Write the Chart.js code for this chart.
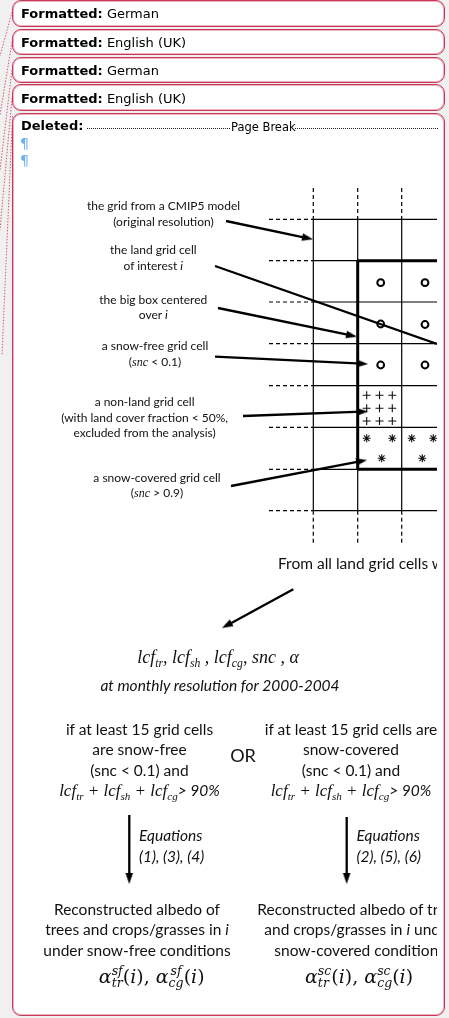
<!DOCTYPE html>
<html>
<head>
<meta charset="utf-8">
<script src="https://cdn.jsdelivr.net/npm/chart.js"></script>
<style>
html, body { margin:0; padding:0; width:449px; height:1018px; background:#f0f0f0; overflow:hidden; }
body { font-family: Lato, "Open Sans", sans-serif; color:#111; position:relative; }
.bal { position:absolute; left:12px; width:433px; background:#fff; border:1.5px solid #c8365a; border-radius:9px; box-sizing:border-box; box-shadow: inset 0 0 0 1px #eeb3c1; z-index:1; }
.bt { position:absolute; left:21px; font-family:"DejaVu Sans", sans-serif; font-size:13px; white-space:nowrap; line-height:16px; z-index:3; color:#000; }
.pil { position:absolute; left:20px; font:14px "DejaVu Sans", sans-serif; color:#6ab0f2; z-index:3; line-height:16px; }
.dots { position:absolute; height:0; border-bottom:1px dotted #222; z-index:3; }
#diagram { position:absolute; left:0; top:0; z-index:2; }
#txt { position:absolute; left:0; top:0; width:437px; height:1018px; overflow:hidden; z-index:3; }
.c { position:absolute; white-space:nowrap; text-align:center; transform:translateX(-50%); }
.l { position:absolute; white-space:nowrap; }
.sm { font-size:12px; line-height:15.7px; }
.md { font-size:15.5px; line-height:20.3px; }
.tm { font-family:"Liberation Serif", "Times New Roman", serif; font-style:italic; }
.md .tm { font-size:17px; }
.tm sub { font-size:0.65em; vertical-align:-0.35em; line-height:0; }
.eq { font-style:italic; font-size:15.5px; line-height:21px; }
.alpha { font-family:"DejaVu Serif", "Liberation Serif", serif; font-size:19px; line-height:24px; }
.ss { display:inline-flex; flex-direction:column; vertical-align:0.6em; font-size:0.66em; line-height:0.95em; font-style:italic; }
</style>
</head>
<body>

<div class="bal" style="top:0px;height:27px"></div>
<div class="bal" style="top:28.5px;height:26.5px"></div>
<div class="bal" style="top:56.5px;height:26.5px"></div>
<div class="bal" style="top:84px;height:27px"></div>
<div class="bal" style="top:113px;height:903px"></div>

<div class="bt" style="top:6px"><b>Formatted:</b> German</div>
<div class="bt" style="top:35px"><b>Formatted:</b> English (UK)</div>
<div class="bt" style="top:63px"><b>Formatted:</b> German</div>
<div class="bt" style="top:91px"><b>Formatted:</b> English (UK)</div>
<div class="bt" style="top:118px"><b>Deleted:</b></div>
<div class="dots" style="left:87px;width:143px;top:128px"></div>
<div class="bt" style="top:119px;left:231px;font-size:11.5px">Page Break</div>
<div class="dots" style="left:295px;width:143px;top:128px"></div>
<div class="pil" style="top:135px">¶</div>
<div class="pil" style="top:152px">¶</div>

<canvas id="diagram" width="437" height="1018"></canvas>

<div id="txt">
  <div class="c sm" style="left:163.5px;top:198px">the grid from a CMIP5 model<br>(original resolution)</div>
  <div class="c sm" style="left:153.3px;top:242px">the land grid cell<br>of interest <i>i</i></div>
  <div class="c sm" style="left:153.3px;top:291.5px">the big box centered<br>over <i>i</i></div>
  <div class="c sm" style="left:155px;top:338px">a snow-free grid cell<br>(<span class="tm">snc</span> &lt; 0.1)</div>
  <div class="c sm" style="left:144.6px;top:394px">a non-land grid cell<br>(with land cover fraction &lt; 50%,<br>excluded from the analysis)</div>
  <div class="c sm" style="left:157px;top:469.5px">a snow-covered grid cell<br>(<span class="tm">snc</span> &gt; 0.9)</div>

  <div class="l md" style="left:278px;top:552.5px">From all land grid cells within the big box</div>

  <div class="c tm" style="left:218px;top:645px;font-size:18px;line-height:24px">lcf<sub>tr</sub>, lcf<sub>sh</sub> , lcf<sub>cg</sub>, snc , α</div>
  <div class="c" style="left:220px;top:675px;font-size:15.5px;font-style:italic;line-height:20px">at monthly resolution for 2000-2004</div>

  <div class="c md" style="left:139.5px;top:719px">if at least 15 grid cells<br>are snow-free<br>(snc &lt; 0.1) and<br><span class="tm">lcf<sub>tr</sub> + lcf<sub>sh</sub> + lcf<sub>cg</sub></span><i>&gt; 90%</i></div>
  <div class="c" style="left:243px;top:744px;font-size:18px;line-height:22px">OR</div>
  <div class="c md" style="left:351px;top:719px">if at least 15 grid cells are<br>snow-covered<br>(snc &lt; 0.1) and<br><span class="tm">lcf<sub>tr</sub> + lcf<sub>sh</sub> + lcf<sub>cg</sub></span><i>&gt; 90%</i></div>

  <div class="l eq" style="left:139px;top:824.5px">Equations<br>(1), (3), (4)</div>
  <div class="l eq" style="left:356.5px;top:824.5px">Equations<br>(2), (5), (6)</div>

  <div class="c md" style="left:137px;top:899px">Reconstructed albedo of<br>trees and crops/grasses in <i>i</i><br>under snow-free conditions</div>
  <div class="c alpha" style="left:151.7px;top:964px"><i>α</i><span class="ss"><span>sf</span><span>tr</span></span>(<i>i</i>), <i>α</i><span class="ss"><span>sf</span><span>cg</span></span>(<i>i</i>)</div>
  <div class="l md" style="left:257.3px;top:899px">Reconstructed albedo of trees</div>
  <div class="l md" style="left:264.3px;top:919.3px">and crops/grasses in <i>i</i> under</div>
  <div class="l md" style="left:274.3px;top:939.6px">snow-covered conditions</div>
  <div class="l alpha" style="left:305px;top:964px"><i>α</i><span class="ss"><span>sc</span><span>tr</span></span>(<i>i</i>), <i>α</i><span class="ss"><span>sc</span><span>cg</span></span>(<i>i</i>)</div>
</div>

<script>
// grid of the CMIP5 model (page pixels)
const gridCols = [313.3, 357.7, 401.7];
const gridRows = [219.3, 260.7, 302.0, 343.7, 385.7, 427.3, 469.3, 510.7];
const gridRight = 437;
const stubLeft = 269;
const stubTop = 188;
const stubBottom = 542.7;

// the big box around cell i
const boxLeft = 357.7, boxTop = 260.7, boxBottom = 469.3;

// cell markers
const snowFree = [[380.7, 282.7], [425, 282.7], [380.7, 324], [425, 324.5], [380.7, 365], [425, 365]];
const nonLand = [[366.7, 395.3], [379.5, 395.3], [392.3, 395.3], [366.7, 408.3], [379.5, 408.3], [392.3, 408.3], [366.7, 421], [379.5, 421], [392.3, 421]];
const snowCovered = [[366.7, 438.3], [392.3, 438.3], [411.7, 438.3], [433.3, 438.3], [381.7, 458.3], [422.3, 458.3]];

// callout arrows: from -> tip
const arrows = [
  [[226, 221], [313, 239.3]],
  [[218, 308], [357, 336.7]],
  [[215, 356.7], [368, 364]],
  [[243, 416], [368, 411.5]],
  [[231, 486], [367, 460]],
  [[293.3, 589.3], [222, 628]],
  [[129.3, 815], [129.3, 884]],
  [[346.7, 817], [346.7, 884]]
];
// plain line (land grid cell of interest)
const plainLines = [[[215, 266], [437, 344]]];

// track-change connectors on the left margin
const connectors = [
  [[12, 12], [0, 56]],
  [[12, 42], [0, 115]],
  [[12, 70], [0, 170]],
  [[12, 98], [0, 230]],
  [[12.5, 116], [2, 355]]
];

var datasets = [];

function seg(p, q, style) {
  return Object.assign({
    data: [{x: p[0], y: p[1]}, {x: q[0], y: q[1]}],
    showLine: true, pointRadius: 0, borderColor: '#000', borderWidth: 1.2, tension: 0, fill: false
  }, style || {});
}

// solid grid
gridRows.forEach(function (y) { datasets.push(seg([gridCols[0], y], [gridRight, y])); });
gridCols.forEach(function (x) { datasets.push(seg([x, gridRows[0]], [x, gridRows[gridRows.length - 1]])); });

// dashed continuations
gridRows.forEach(function (y) { datasets.push(seg([stubLeft, y], [gridCols[0], y], {borderDash: [4, 3]})); });
gridCols.forEach(function (x) {
  datasets.push(seg([x, stubTop], [x, gridRows[0]], {borderDash: [4, 3]}));
  datasets.push(seg([x, gridRows[gridRows.length - 1]], [x, stubBottom], {borderDash: [4, 3]}));
});

// thick box
datasets.push(seg([boxLeft, boxTop], [boxLeft, boxBottom], {borderWidth: 3}));
datasets.push(seg([boxLeft, boxTop], [gridRight, boxTop], {borderWidth: 3}));
datasets.push(seg([boxLeft, boxBottom], [gridRight, boxBottom], {borderWidth: 3}));

// arrowhead image, tip 6px from centre
var head = document.createElement('canvas');
head.width = 12; head.height = 12;
var hc = head.getContext('2d');
hc.fillStyle = '#000';
hc.beginPath(); hc.moveTo(6, 0); hc.lineTo(9.8, 11); hc.lineTo(2.2, 11); hc.closePath(); hc.fill();

var headPts = [], headRot = [];
arrows.forEach(function (a) {
  var dx = a[1][0] - a[0][0], dy = a[1][1] - a[0][1];
  var len = Math.sqrt(dx * dx + dy * dy), ux = dx / len, uy = dy / len;
  var base = [a[1][0] - ux * 6, a[1][1] - uy * 6];
  datasets.push(seg(a[0], base, {borderWidth: 2.3}));
  headPts.push({x: base[0], y: base[1]});
  headRot.push(Math.atan2(ux, -uy) * 180 / Math.PI);
});
plainLines.forEach(function (l) { datasets.push(seg(l[0], l[1], {borderWidth: 2.3})); });

datasets.push({data: headPts, pointStyle: head, pointRotation: headRot, pointRadius: 6, showLine: false});

connectors.forEach(function (l) {
  datasets.push(seg(l[0], l[1], {borderColor: '#d5587a', borderWidth: 1, borderDash: [1.5, 1.5]}));
});

// markers
datasets.push({data: snowFree.map(function (p) { return {x: p[0], y: p[1]}; }),
  pointStyle: 'circle', pointRadius: 3.4, pointBorderWidth: 2, pointBorderColor: '#000', pointBackgroundColor: '#fff', showLine: false});
datasets.push({data: nonLand.map(function (p) { return {x: p[0], y: p[1]}; }),
  pointStyle: 'cross', pointRadius: 4, pointBorderWidth: 1.1, pointBorderColor: '#111', showLine: false});
datasets.push({data: snowCovered.map(function (p) { return {x: p[0], y: p[1]}; }),
  pointStyle: 'star', pointRadius: 4, pointBorderWidth: 1.1, pointBorderColor: '#111', showLine: false});

var diagram = new Chart(document.getElementById('diagram').getContext('2d'), {
  type: 'scatter',
  data: {datasets: datasets},
  options: {
    responsive: false,
    animation: false,
    events: [],
    layout: {padding: 0, autoPadding: false},
    plugins: {legend: {display: false}, tooltip: {enabled: false}},
    scales: {
      x: {type: 'linear', min: 0, max: 437, display: false},
      y: {type: 'linear', min: 0, max: 1018, reverse: true, display: false}
    }
  }
});
</script>
</body>
</html>
